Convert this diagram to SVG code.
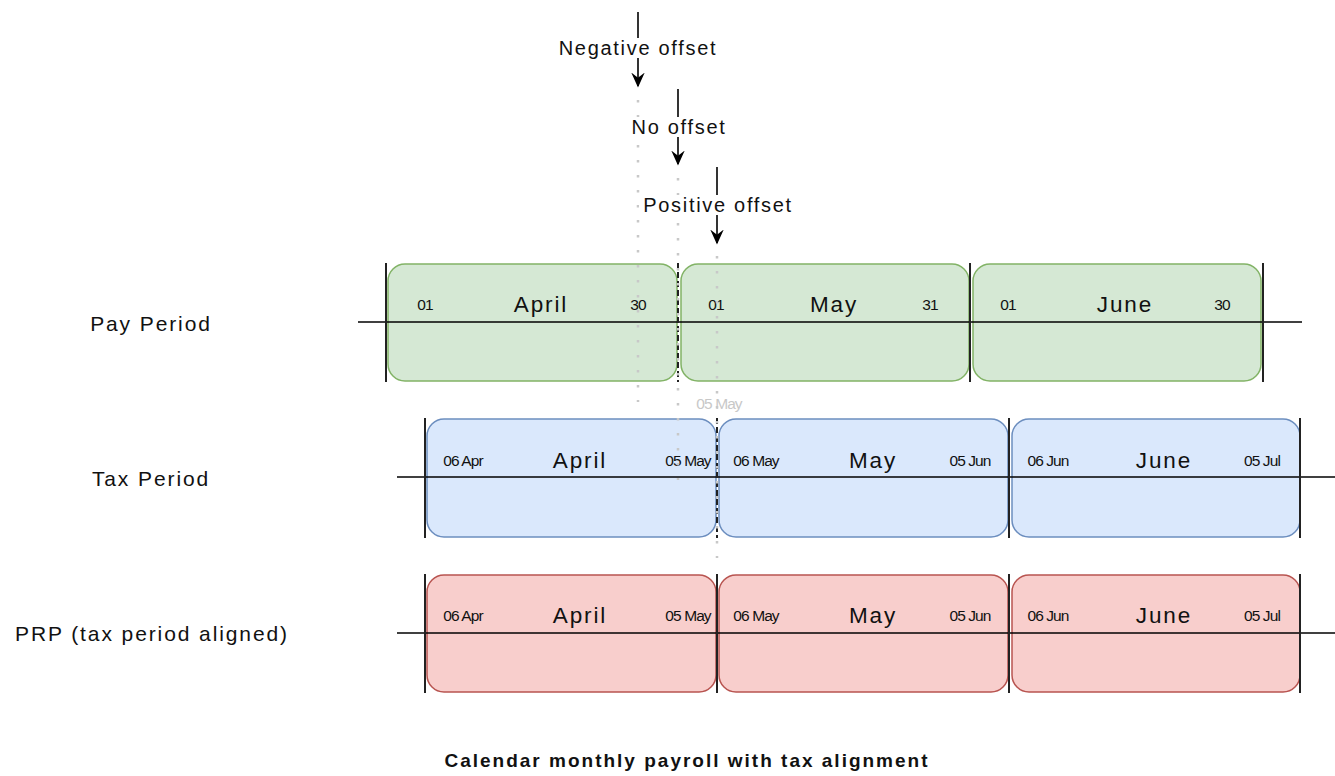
<svg xmlns="http://www.w3.org/2000/svg" width="1335" height="776" viewBox="0 0 1335 776">
<defs>
<style>
.t{font-family:"Liberation Sans",Arial,sans-serif;fill:#111}
.lbl{font-size:21px;letter-spacing:1.9px;text-anchor:middle}
.off{font-size:20px;letter-spacing:1.7px;text-anchor:middle}
.mon{font-size:22.5px;letter-spacing:1.9px;text-anchor:middle}
.sm{font-size:15.5px;letter-spacing:-0.9px;text-anchor:middle}
.g{fill:#d5e8d4;stroke:#82b366;stroke-width:1.5}
.b{fill:#dae8fc;stroke:#6c8ebf;stroke-width:1.5}
.r{fill:#f8cecc;stroke:#b85450;stroke-width:1.5}
.ax{stroke:#000;stroke-width:1.6}
.tick{stroke:#222;stroke-width:2}
.dash{stroke:#222;stroke-width:2;stroke-dasharray:6 3}
.dot{stroke:#c8c8c8;stroke-width:2.5;stroke-dasharray:2.5 12.5}
.arr{stroke:#000;stroke-width:1.6;fill:none}
</style>
<marker id="ah" viewBox="0 0 10 10" refX="9" refY="5" markerWidth="15" markerHeight="15" markerUnits="userSpaceOnUse" orient="auto" preserveAspectRatio="none"><path d="M0,0.5 L10,5 L0,9.5 L3.5,5 Z" fill="#000"/></marker>
</defs>
<rect width="1335" height="776" fill="#fff"/>

<g id="row-labels">
<text class="t lbl" x="151" y="331">Pay Period</text>
<text class="t lbl" x="151" y="486">Tax Period</text>
<text class="t lbl" x="152" y="641">PRP (tax period aligned)</text>
</g>

<g id="pay-period">
<rect class="g" x="388" y="264" width="289" height="117" rx="17"/>
<rect class="g" x="681" y="264" width="288" height="117" rx="17"/>
<rect class="g" x="973" y="264" width="288" height="117" rx="17"/>
<line class="ax" x1="358" y1="322" x2="1302" y2="322"/>
<line class="tick" x1="386" y1="263" x2="386" y2="382"/>
<line class="dash" x1="678" y1="263" x2="678" y2="382"/>
<line class="tick" x1="970" y1="263" x2="970" y2="382"/>
<line class="tick" x1="1263" y1="263" x2="1263" y2="382"/>
<text class="t sm" x="425" y="310">01</text>
<text class="t mon" x="541" y="312">April</text>
<text class="t sm" x="638" y="310">30</text>
<text class="t sm" x="716" y="310">01</text>
<text class="t mon" x="834" y="312">May</text>
<text class="t sm" x="930" y="310">31</text>
<text class="t sm" x="1008" y="310">01</text>
<text class="t mon" x="1125" y="312">June</text>
<text class="t sm" x="1222" y="310">30</text>
</g>

<g id="tax-period">
<rect class="b" x="427" y="419" width="289" height="118" rx="17"/>
<rect class="b" x="719" y="419" width="289" height="118" rx="17"/>
<rect class="b" x="1012" y="419" width="288" height="118" rx="17"/>
<line class="ax" x1="397" y1="477" x2="1335" y2="477"/>
<line class="tick" x1="425" y1="418" x2="425" y2="538"/>
<line class="dash" x1="717" y1="418" x2="717" y2="538"/>
<line class="tick" x1="1009" y1="418" x2="1009" y2="538"/>
<line class="tick" x1="1300" y1="418" x2="1300" y2="538"/>
<text class="t sm" x="463" y="466">06 Apr</text>
<text class="t mon" x="580" y="468">April</text>
<text class="t sm" x="688" y="466">05 May</text>
<text class="t sm" x="756" y="466">06 May</text>
<text class="t mon" x="873" y="468">May</text>
<text class="t sm" x="970" y="466">05 Jun</text>
<text class="t sm" x="1048" y="466">06 Jun</text>
<text class="t mon" x="1164" y="468">June</text>
<text class="t sm" x="1262" y="466">05 Jul</text>
</g>

<g id="prp-period">
<rect class="r" x="427" y="575" width="289" height="117" rx="17"/>
<rect class="r" x="719" y="575" width="289" height="117" rx="17"/>
<rect class="r" x="1012" y="575" width="288" height="117" rx="17"/>
<line class="ax" x1="397" y1="633" x2="1335" y2="633"/>
<line class="tick" x1="425" y1="574" x2="425" y2="693"/>
<line class="tick" x1="717" y1="574" x2="717" y2="693"/>
<line class="tick" x1="1009" y1="574" x2="1009" y2="693"/>
<line class="tick" x1="1300" y1="574" x2="1300" y2="693"/>
<text class="t sm" x="463" y="621">06 Apr</text>
<text class="t mon" x="580" y="623">April</text>
<text class="t sm" x="688" y="621">05 May</text>
<text class="t sm" x="756" y="621">06 May</text>
<text class="t mon" x="873" y="623">May</text>
<text class="t sm" x="970" y="621">05 Jun</text>
<text class="t sm" x="1048" y="621">06 Jun</text>
<text class="t mon" x="1164" y="623">June</text>
<text class="t sm" x="1262" y="621">05 Jul</text>
</g>

<g id="connectors">
<line class="dot" x1="638" y1="100" x2="638" y2="402"/>
<line class="dot" x1="678" y1="178" x2="678" y2="480"/>
<line class="dot" x1="717" y1="256" x2="717" y2="558"/>
<line class="arr" x1="638" y1="12" x2="638" y2="86" marker-end="url(#ah)"/>
<line class="arr" x1="678" y1="89" x2="678" y2="164" marker-end="url(#ah)"/>
<line class="arr" x1="717" y1="167" x2="717" y2="243" marker-end="url(#ah)"/>
</g>

<g id="offset-labels">
<rect x="554" y="38" width="168" height="20" fill="#fff"/>
<text class="t off" x="638" y="55">Negative offset</text>
<rect x="626" y="117" width="104" height="20" fill="#fff"/>
<text class="t off" x="679" y="134">No offset</text>
<rect x="639" y="195" width="156" height="20" fill="#fff"/>
<text class="t off" x="718" y="212">Positive offset</text>
<text class="t" x="719" y="409" font-size="15.5" letter-spacing="-0.9" text-anchor="middle" style="fill:#c8c8c8">05 May</text>
</g>

<g id="title">
<text class="t" x="687" y="767" font-size="19" font-weight="bold" letter-spacing="2" text-anchor="middle">Calendar monthly payroll with tax alignment</text>
</g>
</svg>
